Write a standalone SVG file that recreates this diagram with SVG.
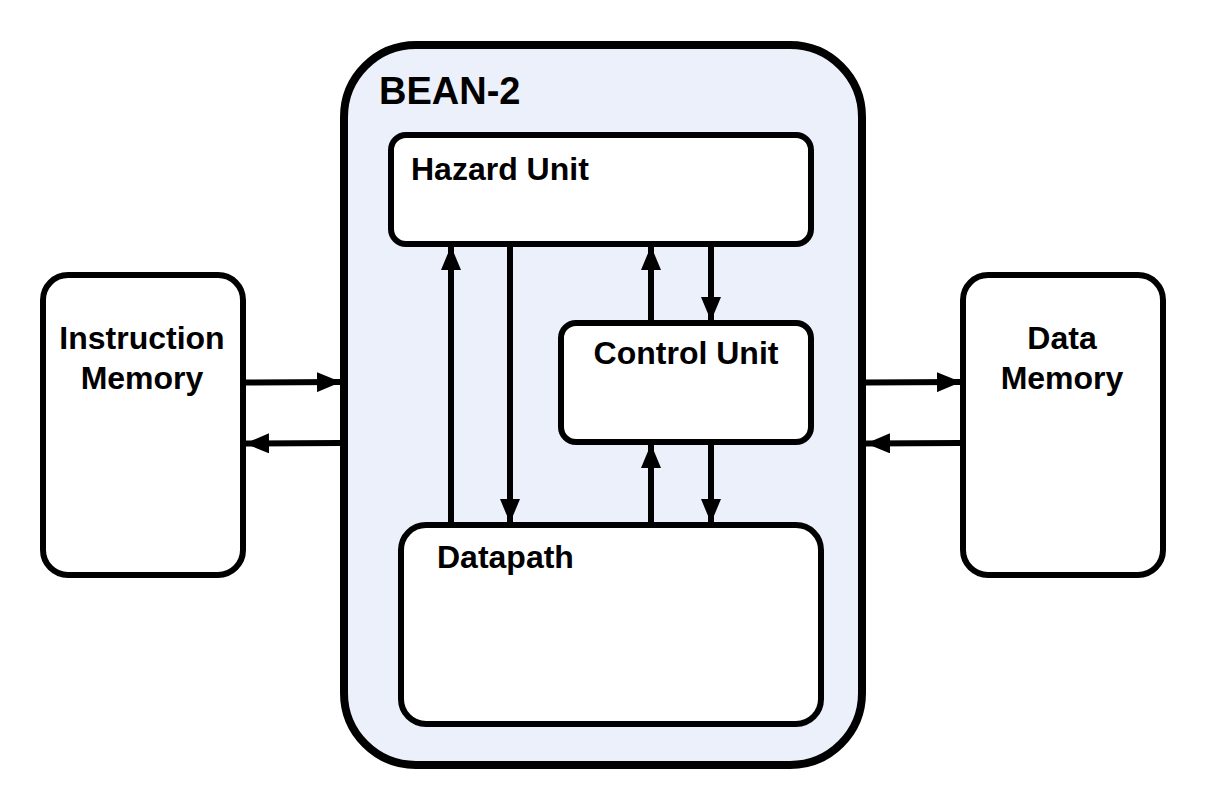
<svg xmlns="http://www.w3.org/2000/svg" width="1206" height="810" viewBox="0 0 1206 810">
<style>
.box{fill:#fff;stroke:#000;stroke-width:6}
.outer{fill:#ecf0fb;stroke:#000;stroke-width:8}
.lbl{font-family:"Liberation Sans",Arial,sans-serif;font-weight:bold;font-size:32px;fill:#000}
.c{stroke:#000;stroke-width:6;fill:none;marker-end:url(#ah)}
</style>
<defs>
<marker id="ah" viewBox="0 0 24 20" refX="24" refY="10" markerWidth="24" markerHeight="20" markerUnits="userSpaceOnUse" orient="auto">
<path d="M0,0 L24,10 L0,20 Z" fill="#000"/>
</marker>
</defs>
<rect width="1206" height="810" fill="#fff"/>
<g id="bean2">
<rect class="outer" x="344" y="45" width="518" height="720" rx="72" ry="72"/>
<text class="lbl" x="379" y="104" style="font-size:38px">BEAN-2</text>
</g>
<g id="instruction-memory">
<rect class="box" x="43" y="275" width="200" height="300" rx="25" ry="25"/>
<text class="lbl" x="142" y="349" text-anchor="middle">Instruction</text>
<text class="lbl" x="142" y="389" text-anchor="middle">Memory</text>
</g>
<g id="data-memory">
<rect class="box" x="963" y="275" width="200" height="300" rx="25" ry="25"/>
<text class="lbl" x="1062" y="349" text-anchor="middle">Data</text>
<text class="lbl" x="1062" y="389" text-anchor="middle">Memory</text>
</g>
<g id="hazard-unit">
<rect class="box" x="391" y="135" width="420" height="109" rx="15" ry="15"/>
<text class="lbl" x="411" y="180">Hazard Unit</text>
</g>
<g id="control-unit">
<rect class="box" x="561" y="323" width="250" height="119" rx="15" ry="15"/>
<text class="lbl" x="686" y="364" text-anchor="middle">Control Unit</text>
</g>
<g id="datapath">
<rect class="box" x="401" y="525" width="420" height="199" rx="25" ry="25"/>
<text class="lbl" x="437" y="568">Datapath</text>
</g>
<g id="connectors">
<path class="c" d="M246,382.5 L341,382"/>
<path class="c" d="M340,443 L245,443.5"/>
<path class="c" d="M866,382.5 L961,382"/>
<path class="c" d="M960,443 L866,443.5"/>
<path class="c" d="M451,522 L451,246"/>
<path class="c" d="M510,247 L510,523"/>
<path class="c" d="M651,320 L651,246"/>
<path class="c" d="M711,247 L711,321"/>
<path class="c" d="M651,522 L651,444"/>
<path class="c" d="M711,445 L711,523"/>
</g>
</svg>
